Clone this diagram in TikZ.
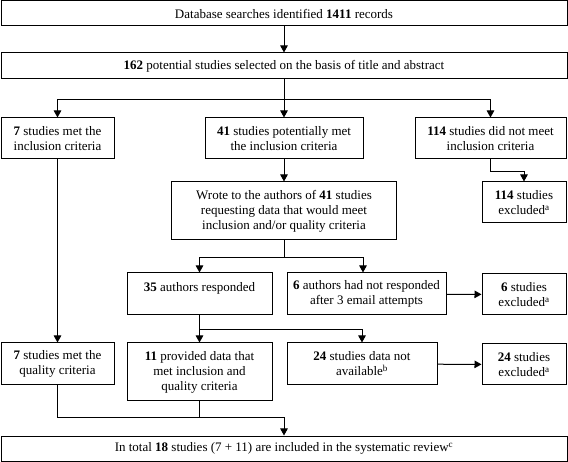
\documentclass[tikz,border=0pt]{standalone}
\usepackage{fontspec}
\setmainfont{Liberation Serif}
\usetikzlibrary{arrows.meta, positioning}
\tikzset{
  stagebox/.style={rectangle,draw=black,line width=1pt,align=center,inner sep=0pt,font=\fontsize{13}{15}\selectfont},
  widebox/.style={stagebox,minimum width=566pt,minimum height=25pt},
  exclbox/.style={stagebox,minimum width=84pt,minimum height=41pt},
  flow/.style={line width=1pt,black,-{Triangle[length=7pt,width=7.5pt]}},
  flowline/.style={line width=1pt,black},
}

\begin{document}
\begin{tikzpicture}[x=1pt,y=1pt]
	\useasboundingbox (0,0) rectangle (568,-462);
	\node[widebox] (search) at (284,-13.5) {Database searches identified \textbf{1411} records};
	\node[widebox,minimum height=26pt] (screen) at (284,-66) {\textbf{162} potential studies selected on the basis of title and abstract};
	\node[stagebox,minimum width=113pt,minimum height=41pt] (metinc) at (57.5,-138.5) {\textbf{7} studies met the\\inclusion criteria};
	\node[stagebox,minimum width=158pt,minimum height=41pt] (potinc) at (284,-138.5) {\textbf{41} studies potentially met\\the inclusion criteria};
	\node[stagebox,minimum width=151pt,minimum height=41pt] (notinc) at (490.5,-138.5) {\textbf{114} studies did not meet\\inclusion criteria};
	\node[exclbox] (exclinc) at (524,-202.5) {\textbf{114} studies\\excluded\textsuperscript{a}};
	\node[stagebox,minimum width=225pt,minimum height=58pt] (wrote) at (284,-211) {Wrote to the authors of \textbf{41} studies\\requesting data that would meet\\inclusion and/or quality criteria};
	\node[stagebox,minimum width=145pt,minimum height=42pt] (resp) at (199.5,-294) {\textbf{35} authors responded\\\mbox{}};
	\node[stagebox,minimum width=159pt,minimum height=42pt] (noresp) at (366.5,-294) {\textbf{6} authors had not responded\\after 3 email attempts};
	\node[exclbox] (exclresp) at (524,-294.5) {\textbf{6} studies\\excluded\textsuperscript{a}};
	\node[stagebox,minimum width=113pt,minimum height=42pt] (metqual) at (57.5,-364) {\textbf{7} studies met the\\quality criteria};
	\node[stagebox,minimum width=145pt,minimum height=58pt] (provided) at (199.5,-372) {\textbf{11} provided data that\\met inclusion and\\quality criteria};
	\node[stagebox,minimum width=150pt,minimum height=42pt] (nodata) at (362,-364) {\textbf{24} studies data not\\available\textsuperscript{b}};
	\node[exclbox] (excldata) at (524,-364.5) {\textbf{24} studies\\excluded\textsuperscript{a}};
	\node[widebox] (total) at (284,-448.5) {In total \textbf{18} studies (7 + 11) are included in the systematic review\textsuperscript{c}};

	\draw[flow] (search) -- (screen);
	\draw[flowline] (screen.south) -- ++(0,-20) coordinate (split1);
	\draw[flow] (split1) -| (metinc);
	\draw[flow] (split1) -- (potinc);
	\draw[flow] (split1) -| (notinc);
	\draw[flow] (notinc.south) -- ++(0,-12) -| (exclinc.north);
	\draw[flow] (potinc) -- (wrote);
	\draw[flowline] (wrote.south) -- ++(0,-17) coordinate (split2);
	\draw[flow] (split2) -| (resp);
	\draw[flow] (split2) -| ([xshift=-3.5pt]noresp.north);
	\draw[flow] (noresp) -- (exclresp);
	\draw[flowline] (resp.south) -- ++(0,-14) coordinate (split3);
	\draw[flow] (split3) -- (provided);
	\draw[flow] (split3) -| (nodata);
	\draw[flow] (nodata) -- (excldata);
	\draw[flow] (metinc) -- (metqual);
	\path (total.north) ++(0,18) coordinate (join);
	\draw[flowline] (metqual.south) |- (join);
	\draw[flowline] (provided.south) |- (join);
	\draw[flow] (join) -- (total);
\end{tikzpicture}
\end{document}
